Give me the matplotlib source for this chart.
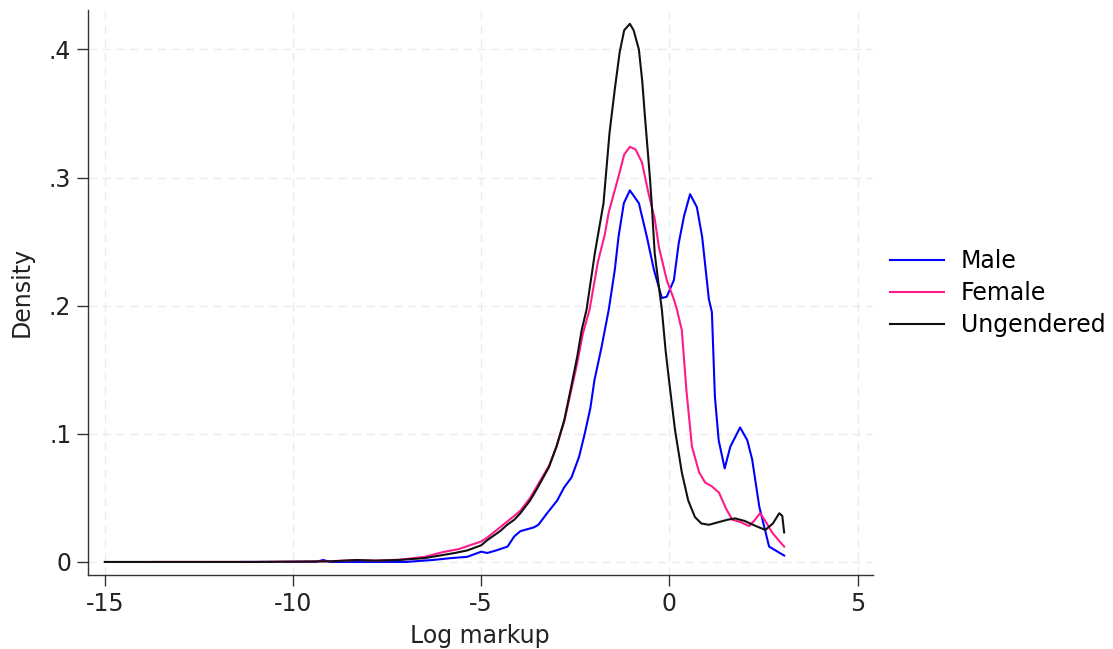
import matplotlib.pyplot as plt
import numpy as np

plt.rcParams['axes.unicode_minus'] = False

# Density estimates (x = log markup, y = density)
male_x = [-11.4, -9.4, -9.2, -9.0, -7.0, -6.26, -5.8, -5.37, -5.0, -4.84, -4.6, -4.3,
          -4.12, -3.96, -3.6, -3.48, -3.25, -2.98, -2.8, -2.6, -2.4, -2.25, -2.1, -1.99,
          -1.8, -1.61, -1.45, -1.35, -1.21, -1.05, -0.81, -0.6, -0.41, -0.2, -0.07, 0.12,
          0.25, 0.39, 0.55, 0.73, 0.87, 1.05, 1.13, 1.21, 1.31, 1.47, 1.62, 1.88, 2.07,
          2.2, 2.39, 2.65, 2.82, 3.05]
male_y = [0.0, 0.0, 0.0015, 0.0, 0.0, 0.0016, 0.003, 0.004, 0.008, 0.007, 0.009, 0.012,
          0.02, 0.024, 0.027, 0.029, 0.038, 0.048, 0.058, 0.066, 0.082, 0.10, 0.12, 0.142,
          0.168, 0.197, 0.228, 0.254, 0.28, 0.29, 0.28, 0.254, 0.228, 0.206, 0.207, 0.22,
          0.249, 0.27, 0.287, 0.277, 0.254, 0.205, 0.195, 0.129, 0.095, 0.073, 0.09, 0.105,
          0.095, 0.08, 0.043, 0.012, 0.009, 0.005]

female_x = [-13.75, -11.0, -9.0, -8.3, -7.8, -7.15, -6.5, -6.0, -5.6, -5.0, -4.84, -4.5,
            -4.12, -3.96, -3.7, -3.5, -3.2, -3.0, -2.79, -2.6, -2.45, -2.3, -2.12, -1.9,
            -1.72, -1.61, -1.35, -1.2, -1.05, -0.9, -0.73, -0.55, -0.39, -0.28, -0.07,
            0.12, 0.2, 0.33, 0.45, 0.6, 0.79, 0.95, 1.13, 1.32, 1.5, 1.67, 1.9, 2.12, 2.25,
            2.41, 2.55, 2.73, 2.9, 3.05]
female_y = [0.0, 0.0, 0.0005, 0.0015, 0.001, 0.0018, 0.004, 0.0078, 0.010, 0.016, 0.019,
            0.027, 0.036, 0.040, 0.050, 0.060, 0.075, 0.090, 0.110, 0.135, 0.155, 0.178,
            0.197, 0.234, 0.255, 0.273, 0.301, 0.318, 0.324, 0.322, 0.312, 0.287, 0.268,
            0.246, 0.22, 0.205, 0.197, 0.181, 0.135, 0.090, 0.070, 0.062, 0.059, 0.054,
            0.042, 0.033, 0.031, 0.028, 0.032, 0.038, 0.032, 0.023, 0.017, 0.012]

ungendered_x = [-15.0, -13.0, -11.0, -9.0, -8.3, -7.8, -7.15, -6.5, -6.1, -5.7, -5.37, -5.0,
                -4.84, -4.5, -4.31, -4.12, -3.96, -3.7, -3.5, -3.2, -3.0, -2.79, -2.6, -2.45,
                -2.33, -2.2, -1.98, -1.75, -1.59, -1.45, -1.32, -1.2, -1.05, -0.95, -0.81,
                -0.72, -0.65, -0.52, -0.47, -0.39, -0.28, -0.2, -0.1, -0.01, 0.15, 0.33, 0.5,
                0.68, 0.85, 1.05, 1.3, 1.55, 1.75, 2.0, 2.3, 2.55, 2.75, 2.92, 3.0, 3.05]
ungendered_y = [0.0, 0.0, 0.0, 0.0005, 0.0015, 0.001, 0.0016, 0.003, 0.005, 0.007, 0.009,
                0.013, 0.017, 0.024, 0.029, 0.033, 0.038, 0.048, 0.058, 0.074, 0.090, 0.111,
                0.138, 0.160, 0.181, 0.197, 0.241, 0.28, 0.335, 0.369, 0.398, 0.415, 0.420,
                0.415, 0.400, 0.375, 0.348, 0.301, 0.28, 0.241, 0.215, 0.197, 0.165, 0.142,
                0.103, 0.070, 0.048, 0.035, 0.030, 0.029, 0.031, 0.033, 0.034, 0.032, 0.028,
                0.025, 0.030, 0.038, 0.036, 0.023]

x_ticks = [-15, -10, -5, 0, 5]
y_ticks = [0, 0.1, 0.2, 0.3, 0.4]
y_tick_labels = ['0', '.1', '.2', '.3', '.4']

fs = 17

fig = plt.figure(figsize=(11.13, 6.49), dpi=100)
ax = fig.add_axes([0.079, 0.114, 0.705, 0.871])

ax.plot(male_x, male_y, color='#0000ff', linewidth=1.5, label='Male')
ax.plot(female_x, female_y, color='#ff1a8c', linewidth=1.5, label='Female')
ax.plot(ungendered_x, ungendered_y, color='#111111', linewidth=1.5, label='Ungendered')

ax.set_xlim(-15.45, 5.4)
ax.set_ylim(-0.0102, 0.431)
ax.set_xticks(x_ticks)
ax.set_yticks(y_ticks)
ax.set_yticklabels(y_tick_labels)

ax.grid(True, color='#ebebeb', linestyle=(0, (6, 4)), linewidth=1.0)
ax.set_axisbelow(True)
for side in ['top', 'right']:
    ax.spines[side].set_visible(False)
for side in ['left', 'bottom']:
    ax.spines[side].set_color('#333333')
    ax.spines[side].set_linewidth(1.0)
ax.tick_params(axis='both', which='major', length=8, width=1, color='#333333',
               direction='out', labelsize=fs, labelcolor='#222222', pad=4)

ax.set_xlabel('Log markup', fontsize=fs, color='#222222', labelpad=6)
ax.set_ylabel('Density', fontsize=fs, color='#222222', labelpad=11)

ax.legend(loc='center left', bbox_to_anchor=(890 / 1113, 1 - 293 / 649),
          bbox_transform=fig.transFigure, frameon=False, fontsize=fs,
          handlelength=2.3, handletextpad=0.7, labelspacing=0.33,
          borderpad=0, borderaxespad=0)

fig.savefig('out.png', dpi=100)
